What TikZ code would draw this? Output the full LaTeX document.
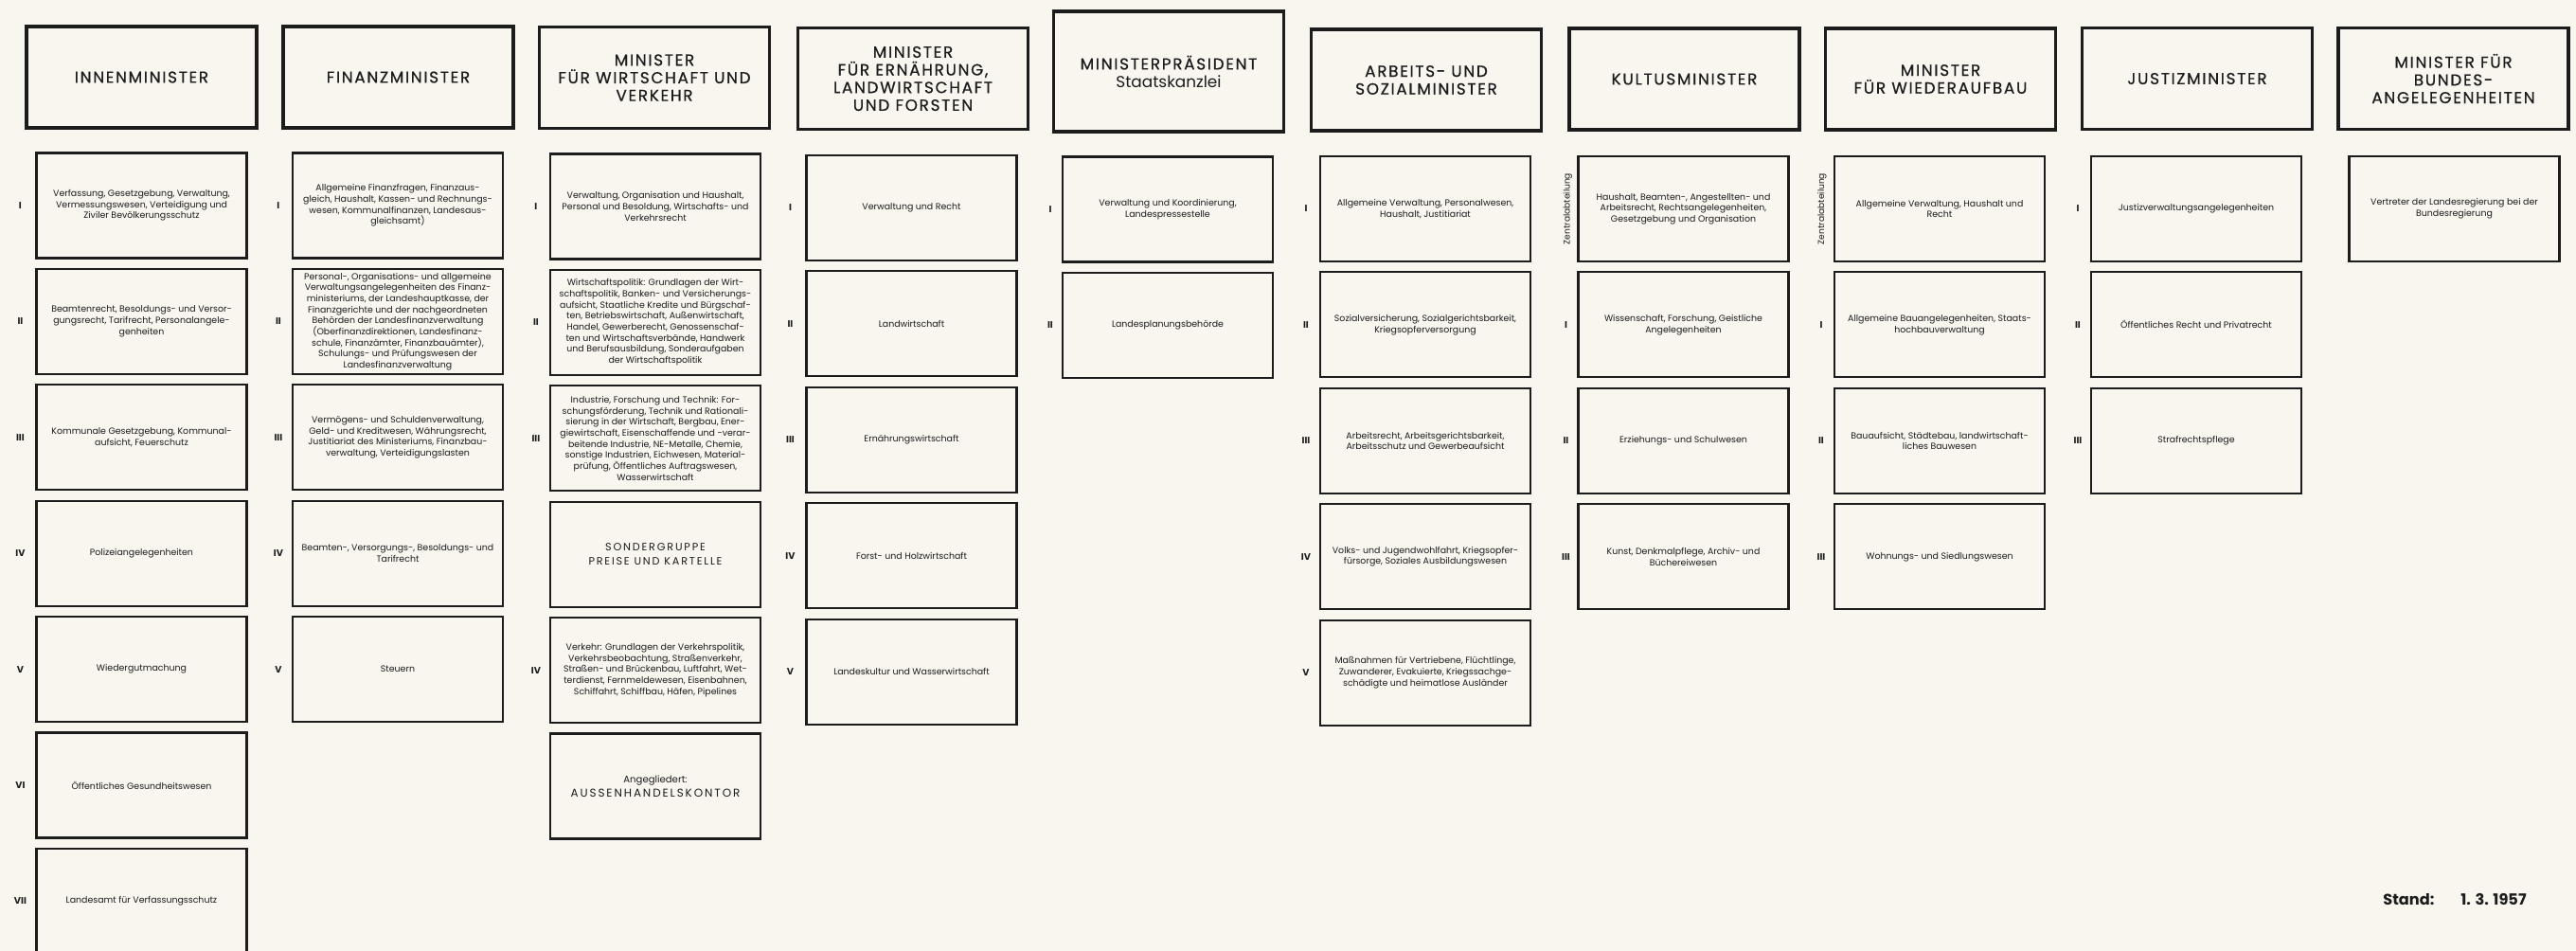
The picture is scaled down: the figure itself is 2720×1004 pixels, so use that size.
\documentclass[tikz,border=0pt]{standalone}
\usepackage{fontspec}
\setmainfont{Poppins}
\newfontfamily\kopffont[LetterSpace=10, FakeBold=0.6]{Poppins}
\newfontfamily\sperrfont[LetterSpace=16]{Poppins}
\usepackage{tikz}
\definecolor{papier}{RGB}{248, 246, 239}
\definecolor{tinte}{RGB}{28, 28, 28}

\tikzset{
  minister/.style={draw=tinte, line width=2.6pt, minimum width=60.75mm, minimum height=26.75mm,
    inner sep=0pt, align=center, text=tinte, font=\kopffont\fontsize{12}{13.3}\selectfont},
  referat/.style={draw=tinte, line width=1.5pt, minimum width=55.5mm, minimum height=27.75mm,
    inner sep=0pt, align=center, text=tinte, font=\fontsize{6.7}{8.3}\selectfont},
  nummer/.style={text=tinte, font=\bfseries\fontsize{7}{8}\selectfont},
  zentral/.style={text=tinte, rotate=90, font=\fontsize{6.5}{7}\selectfont},
  gruppe/.style={font=\sperrfont\fontsize{8}{10.5}\selectfont}
}

\begin{document}
\begin{tikzpicture}[x=0.25mm, y=-0.25mm]
% Papier
\fill[papier] (0,0) rectangle (2720,1004);
\useasboundingbox (0,0) rectangle (2720,1004);

% Kopfzeile
\node[minister] (h1) at (149.5,81.5) {INNENMINISTER};
\node[minister] (h2) at (420.5,81.5) {FINANZMINISTER};
\node[minister] (h3) at (691,82) {MINISTER\\FÜR WIRTSCHAFT UND\\VERKEHR};
\node[minister] (h4) at (964,83) {MINISTER\\FÜR ERNÄHRUNG,\\LANDWIRTSCHAFT\\UND FORSTEN};
\node[minister, minimum height=31.75mm] (h5) at (1234,75.5) {MINISTERPRÄSIDENT\\{\rmfamily Staatskanzlei}};
\node[minister] (h6) at (1506,84.5) {ARBEITS- UND\\SOZIALMINISTER};
\node[minister] (h7) at (1778.5,83.5) {KULTUSMINISTER};
\node[minister] (h8) at (2049,83.5) {MINISTER\\FÜR WIEDERAUFBAU};
\node[minister] (h9) at (2320,83) {JUSTIZMINISTER};
\node[minister] (h10) at (2590.5,83) {MINISTER FÜR\\BUNDES-\\ANGELEGENHEITEN};

% Innenminister
\node[referat] (b1-1) at (149.5,217) {Verfassung, Gesetzgebung, Verwaltung,\\Vermessungswesen, Verteidigung und\\Ziviler Bevölkerungsschutz};
\node[referat] (b1-2) at (149.5,339.4) {Beamtenrecht, Besoldungs- und Versor-\\gungsrecht, Tarifrecht, Personalangele-\\genheiten};
\node[referat] (b1-3) at (149.5,461.8) {Kommunale Gesetzgebung, Kommunal-\\aufsicht, Feuerschutz};
\node[referat] (b1-4) at (149.5,584.2) {Polizeiangelegenheiten};
\node[referat] (b1-5) at (149.5,706.6) {Wiedergutmachung};
\node[referat] (b1-6) at (149.5,829) {Öffentliches Gesundheitswesen};
\node[referat] (b1-7) at (149.5,951.4) {Landesamt für Verfassungsschutz};
\node[nummer] (n1-1) at ([xshift=-4mm]b1-1.west) {I};
\node[nummer] (n1-2) at ([xshift=-4mm]b1-2.west) {II};
\node[nummer] (n1-3) at ([xshift=-4mm]b1-3.west) {III};
\node[nummer] (n1-4) at ([xshift=-4mm]b1-4.west) {IV};
\node[nummer] (n1-5) at ([xshift=-4mm]b1-5.west) {V};
\node[nummer] (n1-6) at ([xshift=-4mm]b1-6.west) {VI};
\node[nummer] (n1-7) at ([xshift=-4mm]b1-7.west) {VII};

% Finanzminister
\node[referat] (b2-1) at (420,217) {Allgemeine Finanzfragen, Finanzaus-\\gleich, Haushalt, Kassen- und Rechnungs-\\wesen, Kommunalfinanzen, Landesaus-\\gleichsamt)};
\node[referat] (b2-2) at (420,339.4) {Personal-, Organisations- und allgemeine\\Verwaltungsangelegenheiten des Finanz-\\ministeriums, der Landeshauptkasse, der\\Finanzgerichte und der nachgeordneten\\Behörden der Landesfinanzverwaltung\\(Oberfinanzdirektionen, Landesfinanz-\\schule, Finanzämter, Finanzbauämter),\\Schulungs- und Prüfungswesen der\\Landesfinanzverwaltung};
\node[referat] (b2-3) at (420,461.8) {Vermögens- und Schuldenverwaltung,\\Geld- und Kreditwesen, Währungsrecht,\\Justitiariat des Ministeriums, Finanzbau-\\verwaltung, Verteidigungslasten};
\node[referat] (b2-4) at (420,584.2) {Beamten-, Versorgungs-, Besoldungs- und\\Tarifrecht};
\node[referat] (b2-5) at (420,706.6) {Steuern};
\node[nummer] (n2-1) at ([xshift=-3.5mm]b2-1.west) {I};
\node[nummer] (n2-2) at ([xshift=-3.5mm]b2-2.west) {II};
\node[nummer] (n2-3) at ([xshift=-3.5mm]b2-3.west) {III};
\node[nummer] (n2-4) at ([xshift=-3.5mm]b2-4.west) {IV};
\node[nummer] (n2-5) at ([xshift=-3.5mm]b2-5.west) {V};

% Wirtschaft und Verkehr
\node[referat] (b3-1) at (692,218) {Verwaltung, Organisation und Haushalt,\\Personal und Besoldung, Wirtschafts- und\\Verkehrsrecht};
\node[referat] (b3-2) at (692,340.4) {Wirtschaftspolitik: Grundlagen der Wirt-\\schaftspolitik, Banken- und Versicherungs-\\aufsicht, Staatliche Kredite und Bürgschaf-\\ten, Betriebswirtschaft, Außenwirtschaft,\\Handel, Gewerberecht, Genossenschaf-\\ten und Wirtschaftsverbände, Handwerk\\und Berufsausbildung, Sonderaufgaben\\der Wirtschaftspolitik};
\node[referat] (b3-3) at (692,462.8) {Industrie, Forschung und Technik: For-\\schungsförderung, Technik und Rationali-\\sierung in der Wirtschaft, Bergbau, Ener-\\giewirtschaft, Eisenschaffende und -verar-\\beitende Industrie, NE-Metalle, Chemie,\\sonstige Industrien, Eichwesen, Material-\\prüfung, Öffentliches Auftragswesen,\\Wasserwirtschaft};
\node[referat, gruppe] (b3-4) at (692,585.2) {SONDERGRUPPE\\PREISE UND KARTELLE};
\node[referat] (b3-5) at (692,707.6) {Verkehr: Grundlagen der Verkehrspolitik,\\Verkehrsbeobachtung, Straßenverkehr,\\Straßen- und Brückenbau, Luftfahrt, Wet-\\terdienst, Fernmeldewesen, Eisenbahnen,\\Schiffahrt, Schiffbau, Häfen, Pipelines};
\node[referat, font=\fontsize{7.2}{11}\selectfont] (b3-6) at (692,830) {Angegliedert:\\{\sperrfont\fontsize{8.5}{11}\selectfont AUSSENHANDELSKONTOR}};
\node[nummer] (n3-1) at ([xshift=-3.5mm]b3-1.west) {I};
\node[nummer] (n3-2) at ([xshift=-3.5mm]b3-2.west) {II};
\node[nummer] (n3-3) at ([xshift=-3.5mm]b3-3.west) {III};
\node[nummer] (n3-5) at ([xshift=-3.5mm]b3-5.west) {IV};

% Ernaehrung, Landwirtschaft und Forsten
\node[referat] (b4-1) at (962.5,219.5) {Verwaltung und Recht};
\node[referat] (b4-2) at (962.5,341.9) {Landwirtschaft};
\node[referat] (b4-3) at (962.5,464.3) {Ernährungswirtschaft};
\node[referat] (b4-4) at (962.5,586.7) {Forst- und Holzwirtschaft};
\node[referat] (b4-5) at (962.5,709.1) {Landeskultur und Wasserwirtschaft};
\node[nummer] (n4-1) at ([xshift=-4mm]b4-1.west) {I};
\node[nummer] (n4-2) at ([xshift=-4mm]b4-2.west) {II};
\node[nummer] (n4-3) at ([xshift=-4mm]b4-3.west) {III};
\node[nummer] (n4-4) at ([xshift=-4mm]b4-4.west) {IV};
\node[nummer] (n4-5) at ([xshift=-4mm]b4-5.west) {V};

% Staatskanzlei
\node[referat] (b5-1) at (1233,221) {Verwaltung und Koordinierung,\\Landespressestelle};
\node[referat] (b5-2) at (1233,343.4) {Landesplanungsbehörde};
\node[nummer] (n5-1) at ([xshift=-3mm]b5-1.west) {I};
\node[nummer] (n5-2) at ([xshift=-3mm]b5-2.west) {II};

% Arbeit und Soziales
\node[referat] (b6-1) at (1505,220.5) {Allgemeine Verwaltung, Personalwesen,\\Haushalt, Justitiariat};
\node[referat] (b6-2) at (1505,342.9) {Sozialversicherung, Sozialgerichtsbarkeit,\\Kriegsopferversorgung};
\node[referat] (b6-3) at (1505,465.3) {Arbeitsrecht, Arbeitsgerichtsbarkeit,\\Arbeitsschutz und Gewerbeaufsicht};
\node[referat] (b6-4) at (1505,587.7) {Volks- und Jugendwohlfahrt, Kriegsopfer-\\fürsorge, Soziales Ausbildungswesen};
\node[referat] (b6-5) at (1505,710.1) {Maßnahmen für Vertriebene, Flüchtlinge,\\Zuwanderer, Evakuierte, Kriegssachge-\\schädigte und heimatlose Ausländer};
\node[nummer] (n6-1) at ([xshift=-3.5mm]b6-1.west) {I};
\node[nummer] (n6-2) at ([xshift=-3.5mm]b6-2.west) {II};
\node[nummer] (n6-3) at ([xshift=-3.5mm]b6-3.west) {III};
\node[nummer] (n6-4) at ([xshift=-3.5mm]b6-4.west) {IV};
\node[nummer] (n6-5) at ([xshift=-3.5mm]b6-5.west) {V};

% Kultus
\node[referat] (b7-0) at (1777.5,220.5) {Haushalt, Beamten-, Angestellten- und\\Arbeitsrecht, Rechtsangelegenheiten,\\Gesetzgebung und Organisation};
\node[referat] (b7-1) at (1777.5,342.9) {Wissenschaft, Forschung, Geistliche\\Angelegenheiten};
\node[referat] (b7-2) at (1777.5,465.3) {Erziehungs- und Schulwesen};
\node[referat] (b7-3) at (1777.5,587.7) {Kunst, Denkmalpflege, Archiv- und\\Büchereiwesen};
\node[zentral] (z7) at ([xshift=-2.5mm]b7-0.west) {Zentralabteilung};
\node[nummer] (n7-1) at ([xshift=-3mm]b7-1.west) {I};
\node[nummer] (n7-2) at ([xshift=-3mm]b7-2.west) {II};
\node[nummer] (n7-3) at ([xshift=-3mm]b7-3.west) {III};

% Wiederaufbau
\node[referat] (b8-0) at (2048,220.5) {Allgemeine Verwaltung, Haushalt und\\Recht};
\node[referat] (b8-1) at (2048,342.9) {Allgemeine Bauangelegenheiten, Staats-\\hochbauverwaltung};
\node[referat] (b8-2) at (2048,465.3) {Bauaufsicht, Städtebau, landwirtschaft-\\liches Bauwesen};
\node[referat] (b8-3) at (2048,587.7) {Wohnungs- und Siedlungswesen};
\node[zentral] (z8) at ([xshift=-3mm]b8-0.west) {Zentralabteilung};
\node[nummer] (n8-1) at ([xshift=-3.25mm]b8-1.west) {I};
\node[nummer] (n8-2) at ([xshift=-3.25mm]b8-2.west) {II};
\node[nummer] (n8-3) at ([xshift=-3.25mm]b8-3.west) {III};

% Justiz
\node[referat] (b9-1) at (2319,220.5) {Justizverwaltungsangelegenheiten};
\node[referat] (b9-2) at (2319,342.9) {Öffentliches Recht und Privatrecht};
\node[referat] (b9-3) at (2319,465.3) {Strafrechtspflege};
\node[nummer] (n9-1) at ([xshift=-3.25mm]b9-1.west) {I};
\node[nummer] (n9-2) at ([xshift=-3.25mm]b9-2.west) {II};
\node[nummer] (n9-3) at ([xshift=-3.25mm]b9-3.west) {III};

% Bundesangelegenheiten
\node[referat] (b10-1) at (2591.5,220.5) {Vertreter der Landesregierung bei der\\Bundesregierung};

% Datum
\node[text=tinte, font=\bfseries\fontsize{11.5}{13}\selectfont] (stand) at (2592,950) {Stand:\hspace{7mm}1. 3. 1957};
\end{tikzpicture}
\end{document}
